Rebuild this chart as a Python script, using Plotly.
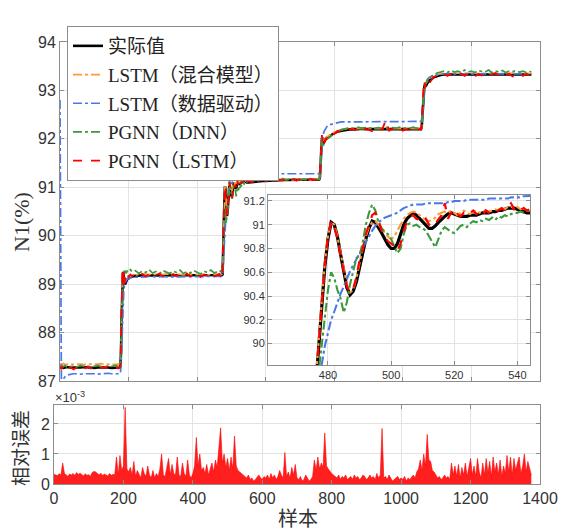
import plotly.graph_objects as go

# ---------------- data ----------------
# sample index grid (non-uniform: dense around the transients / inset window)
samples = ([0, 2, 4, 7, 10, 15, 20, 30, 40, 50, 60, 70, 80, 90, 100, 110, 120, 130, 140, 150, 160, 170]
           + [173, 176, 178, 180, 182, 184, 186, 188, 190, 193, 196, 200, 205, 210]
           + list(range(220, 461, 10))
           + [465, 468]
           + list(range(470, 546))
           + list(range(550, 751, 10))
           + [753, 756, 758, 760, 762, 764, 766, 768, 770, 775, 780, 790]
           + list(range(800, 1051, 10))
           + [1053, 1055, 1057, 1059, 1061, 1063, 1065, 1068, 1071, 1075, 1080, 1090]
           + list(range(1100, 1371, 10)) + [1375])

actual = ([87.28, 87.28, 87.29, 87.28, 87.27, 87.28, 87.29, 87.28, 87.28, 87.27, 87.28, 87.29, 87.28, 87.28, 87.27, 87.28, 87.28, 87.29, 87.28, 87.27, 87.28, 87.28]
          + [87.28, 87.3, 87.6, 88.4, 89.0, 89.25, 89.15, 89.05, 89.0, 89.05, 89.1, 89.12, 89.15, 89.16]
          + [89.17, 89.18, 89.18, 89.19, 89.18, 89.18, 89.19, 89.18, 89.18, 89.19, 89.18, 89.18, 89.19, 89.18, 89.18, 89.19, 89.18, 89.18, 89.19, 89.18, 89.18, 89.19, 89.18, 89.18, 89.19]
          + [89.18, 89.18]
          + [89.18, 89.18, 89.18, 89.19, 89.2, 89.35, 89.6, 89.95, 90.35, 90.65,
             90.88, 91.02, 91.0, 90.9, 90.75, 90.6, 90.47, 90.41, 90.44, 90.52,
             90.65, 90.76, 90.88, 90.97, 91.03, 91.02, 90.98, 90.93, 90.88, 90.83,
             90.8, 90.8, 90.84, 90.92, 91.0, 91.05, 91.08, 91.1, 91.08, 91.05,
             91.02, 90.99, 90.97, 90.97, 90.99, 91.02, 91.05, 91.07, 91.09, 91.1,
             91.09, 91.08, 91.07, 91.07, 91.07, 91.08, 91.08, 91.08, 91.09, 91.1,
             91.1, 91.1, 91.11, 91.11, 91.12, 91.12, 91.13, 91.14, 91.14, 91.14,
             91.13, 91.12, 91.11, 91.1, 91.1, 91.1]
          + [91.1, 91.11, 91.12, 91.12, 91.13, 91.13, 91.14, 91.14, 91.14, 91.15, 91.15, 91.15, 91.15, 91.16, 91.15, 91.15, 91.16, 91.15, 91.16, 91.15, 91.16]
          + [91.16, 91.16, 91.2, 91.5, 91.85, 92.02, 91.95, 91.9, 91.93, 92.0, 92.02, 92.08]
          + [92.12, 92.15, 92.17, 92.18, 92.19, 92.2, 92.2, 92.2, 92.21, 92.2, 92.2, 92.21, 92.2, 92.2, 92.21, 92.2, 92.2, 92.21, 92.2, 92.2, 92.21, 92.2, 92.2, 92.21, 92.2, 92.2]
          + [92.2, 92.25, 92.5, 92.85, 93.05, 93.12, 93.08, 93.1, 93.15, 93.18, 93.22, 93.27]
          + [93.3, 93.32, 93.33, 93.33, 93.34, 93.33, 93.34, 93.33, 93.34, 93.34, 93.33, 93.34, 93.34, 93.33, 93.34, 93.34, 93.33, 93.34, 93.34, 93.33, 93.34, 93.33, 93.34, 93.34, 93.33, 93.34, 93.33, 93.34, 93.33])

lstm_hybrid = ([87.34, 87.35, 87.34, 87.35, 87.36, 87.34, 87.35, 87.36, 87.34, 87.35, 87.35, 87.34, 87.36, 87.35, 87.34, 87.35, 87.36, 87.34, 87.35, 87.35, 87.34, 87.35]
               + [87.35, 87.36, 87.7, 88.5, 89.05, 89.22, 89.15, 89.08, 89.05, 89.08, 89.12, 89.15, 89.17, 89.18]
               + [89.19, 89.2, 89.21, 89.2, 89.2, 89.21, 89.2, 89.19, 89.2, 89.21, 89.2, 89.2, 89.21, 89.2, 89.19, 89.2, 89.21, 89.2, 89.2, 89.21, 89.2, 89.19, 89.2, 89.21, 89.2]
               + [89.2, 89.2]
               + [89.2, 89.2, 89.2, 89.22, 89.25, 89.4, 89.65, 90.0, 90.38, 90.68,
                  90.9, 91.02, 91.0, 90.9, 90.76, 90.62, 90.5, 90.43, 90.45, 90.55,
                  90.68, 90.8, 90.9, 90.98, 91.02, 91.03, 91.0, 90.97, 90.93, 90.9,
                  90.88, 90.9, 90.95, 91.0, 91.05, 91.08, 91.1, 91.11, 91.1, 91.08,
                  91.06, 91.04, 91.03, 91.04, 91.06, 91.09, 91.1, 91.11, 91.1, 91.12,
                  91.1, 91.08, 91.1, 91.12, 91.1, 91.09, 91.11, 91.12, 91.1, 91.11,
                  91.12, 91.11, 91.12, 91.13, 91.12, 91.14, 91.13, 91.15, 91.15, 91.14,
                  91.15, 91.13, 91.14, 91.12, 91.12, 91.12]
               + [91.13, 91.14, 91.15, 91.14, 91.16, 91.15, 91.16, 91.15, 91.17, 91.16, 91.15, 91.17, 91.16, 91.15, 91.17, 91.16, 91.17, 91.16, 91.15, 91.17, 91.16]
               + [91.17, 91.17, 91.22, 91.52, 91.88, 92.04, 91.98, 91.93, 91.96, 92.03, 92.05, 92.1]
               + [92.14, 92.17, 92.19, 92.2, 92.21, 92.21, 92.22, 92.21, 92.22, 92.21, 92.22, 92.21, 92.22, 92.22, 92.21, 92.22, 92.21, 92.22, 92.22, 92.21, 92.22, 92.21, 92.22, 92.21, 92.22, 92.22]
               + [92.21, 92.26, 92.5, 92.85, 93.05, 93.15, 93.12, 93.15, 93.2, 93.22, 93.26, 93.3]
               + [93.33, 93.34, 93.35, 93.35, 93.36, 93.35, 93.36, 93.35, 93.36, 93.36, 93.35, 93.36, 93.35, 93.36, 93.35, 93.36, 93.36, 93.35, 93.36, 93.35, 93.36, 93.35, 93.36, 93.35, 93.36, 93.35, 93.36, 93.35, 93.35])

lstm_data = ([92.8, 88.6, 87.05, 87.02, 87.05, 87.09, 87.12, 87.14, 87.15, 87.15, 87.14, 87.15, 87.15, 87.16, 87.15, 87.14, 87.15, 87.15, 87.16, 87.15, 87.15, 87.15]
             + [87.15, 87.15, 87.3, 87.8, 88.3, 88.65, 88.85, 88.97, 89.03, 89.08, 89.1, 89.12, 89.13, 89.14]
             + [89.14, 89.15, 89.15, 89.15, 89.16, 89.15, 89.15, 89.15, 89.16, 89.15, 89.15, 89.15, 89.16, 89.15, 89.15, 89.15, 89.16, 89.15, 89.15, 89.15, 89.16, 89.15, 89.15, 89.15, 89.16]
             + [89.15, 89.16]
             + [89.16, 89.16, 89.17, 89.18, 89.2, 89.25, 89.4, 89.62, 89.82, 89.98,
                90.1, 90.2, 90.27, 90.35, 90.42, 90.48, 90.55, 90.61, 90.66, 90.71,
                90.76, 90.81, 90.86, 90.91, 90.95, 90.99, 91.02, 91.04, 91.06, 91.07,
                91.08, 91.09, 91.1, 91.12, 91.14, 91.15, 91.16, 91.17, 91.17, 91.17,
                91.17, 91.18, 91.18, 91.18, 91.18, 91.18, 91.18, 91.18, 91.19, 91.19,
                91.2, 91.2, 91.2, 91.2, 91.21, 91.21, 91.21, 91.21, 91.21, 91.21,
                91.21, 91.22, 91.22, 91.22, 91.22, 91.22, 91.22, 91.22, 91.23, 91.23,
                91.23, 91.23, 91.24, 91.24, 91.24, 91.24]
             + [91.25, 91.25, 91.26, 91.26, 91.26, 91.27, 91.27, 91.27, 91.27, 91.28, 91.28, 91.28, 91.28, 91.28, 91.28, 91.28, 91.28, 91.28, 91.28, 91.28, 91.28]
             + [91.28, 91.28, 91.3, 91.4, 91.65, 91.85, 92.0, 92.1, 92.15, 92.22, 92.27, 92.3]
             + [92.32, 92.34, 92.35, 92.35, 92.35, 92.36, 92.35, 92.35, 92.36, 92.35, 92.35, 92.36, 92.35, 92.35, 92.36, 92.35, 92.35, 92.36, 92.35, 92.35, 92.36, 92.35, 92.35, 92.36, 92.35, 92.35]
             + [92.35, 92.36, 92.45, 92.7, 92.9, 93.05, 93.12, 93.18, 93.22, 93.26, 93.28, 93.3]
             + [93.32, 93.33, 93.34, 93.34, 93.35, 93.34, 93.35, 93.34, 93.35, 93.34, 93.35, 93.34, 93.35, 93.34, 93.35, 93.34, 93.35, 93.34, 93.35, 93.34, 93.35, 93.34, 93.35, 93.34, 93.35, 93.34, 93.35, 93.34, 93.34])

pgnn_dnn = ([87.3, 87.31, 87.29, 87.31, 87.3, 87.32, 87.29, 87.3, 87.31, 87.29, 87.32, 87.3, 87.31, 87.29, 87.3, 87.32, 87.3, 87.29, 87.31, 87.3, 87.32, 87.3]
            + [87.3, 87.32, 87.6, 88.3, 88.9, 89.2, 89.3, 89.25, 89.28, 89.22, 89.27, 89.25, 89.3, 89.26]
            + [89.28, 89.22, 89.27, 89.24, 89.3, 89.23, 89.26, 89.21, 89.28, 89.25, 89.22, 89.27, 89.24, 89.29, 89.22, 89.26, 89.23, 89.28, 89.25, 89.21, 89.27, 89.24, 89.29, 89.23, 89.26]
            + [89.25, 89.27]
            + [89.25, 89.27, 89.24, 89.26, 89.28, 89.35, 89.5, 89.75, 90.0, 90.2,
               90.45, 90.6, 90.55, 90.45, 90.38, 90.26, 90.35, 90.5, 90.62, 90.72,
               90.74, 90.85, 91.0, 91.1, 91.17, 91.12, 91.02, 90.97, 90.94, 90.92,
               90.88, 90.82, 90.76, 90.8, 90.92, 91.0, 91.01, 90.99, 91.0, 90.98,
               90.97, 90.95, 90.9, 90.85, 90.81, 90.88, 90.95, 90.98, 90.96, 90.94,
               90.93, 90.96, 90.99, 91.0, 90.98, 91.01, 91.03, 91.02, 91.04, 91.03,
               91.05, 91.04, 91.06, 91.04, 91.07, 91.06, 91.08, 91.07, 91.09, 91.1,
               91.1, 91.11, 91.1, 91.12, 91.11, 91.11]
            + [91.12, 91.14, 91.13, 91.15, 91.14, 91.16, 91.15, 91.17, 91.15, 91.16, 91.18, 91.15, 91.17, 91.16, 91.18, 91.15, 91.17, 91.16, 91.18, 91.16, 91.17]
            + [91.16, 91.17, 91.2, 91.45, 91.8, 91.98, 91.92, 91.86, 91.9, 91.97, 92.0, 92.06]
            + [92.12, 92.16, 92.19, 92.21, 92.22, 92.23, 92.21, 92.24, 92.22, 92.23, 92.21, 92.24, 92.22, 92.23, 92.21, 92.24, 92.22, 92.23, 92.22, 92.24, 92.21, 92.23, 92.22, 92.24, 92.22, 92.23]
            + [92.22, 92.25, 92.45, 92.8, 93.0, 93.1, 93.12, 93.18, 93.2, 93.25, 93.28, 93.33]
            + [93.36, 93.38, 93.4, 93.37, 93.41, 93.38, 93.4, 93.37, 93.42, 93.38, 93.4, 93.37, 93.41, 93.39, 93.38, 93.42, 93.37, 93.4, 93.38, 93.41, 93.37, 93.4, 93.39, 93.41, 93.38, 93.4, 93.37, 93.39, 93.38])

pgnn_lstm = ([87.26, 87.3, 87.24, 87.29, 87.25, 87.31, 87.26, 87.28, 87.24, 87.3, 87.27, 87.25, 87.29, 87.26, 87.3, 87.24, 87.28, 87.27, 87.3, 87.25, 87.29, 87.26]
             + [87.27, 87.3, 87.9, 88.8, 89.3, 88.95, 89.25, 89.0, 89.15, 89.1, 89.2, 89.15, 89.2, 89.17]
             + [89.2, 89.15, 89.21, 89.16, 89.2, 89.14, 89.19, 89.22, 89.16, 89.2, 89.15, 89.21, 89.17, 89.2, 89.14, 89.22, 89.16, 89.19, 89.23, 89.15, 89.2, 89.17, 89.22, 89.16, 89.19]
             + [89.21, 89.16]
             + [89.15, 89.22, 89.18, 89.2, 89.24, 89.4, 89.62, 89.98, 90.36, 90.66,
                90.9, 91.03, 90.98, 90.88, 90.74, 90.6, 90.48, 90.43, 90.46, 90.56,
                90.7, 90.8, 90.92, 91.0, 91.08, 91.1, 91.04, 90.95, 90.9, 90.86,
                90.84, 90.82, 90.78, 90.84, 90.95, 91.02, 91.07, 91.08, 91.05, 91.04,
                91.02, 91.05, 91.0, 91.03, 91.01, 91.05, 91.08, 91.18, 91.05, 91.1,
                91.06, 91.09, 91.07, 91.1, 91.08, 91.1, 91.12, 91.09, 91.11, 91.08,
                91.12, 91.1, 91.13, 91.11, 91.12, 91.14, 91.12, 91.15, 91.18, 91.13,
                91.15, 91.12, 91.14, 91.12, 91.13, 91.12]
             + [91.13, 91.1, 91.16, 91.12, 91.17, 91.13, 91.15, 91.18, 91.12, 91.16, 91.14, 91.18, 91.13, 91.17, 91.14, 91.16, 91.19, 91.13, 91.17, 91.15, 91.16]
             + [91.15, 91.16, 91.25, 91.6, 92.0, 92.08, 91.9, 91.98, 91.9, 92.02, 91.98, 92.1]
             + [92.1, 92.16, 92.15, 92.19, 92.17, 92.21, 92.18, 92.22, 92.17, 92.21, 92.19, 92.16, 92.22, 92.18, 92.2, 92.38, 92.17, 92.21, 92.18, 92.22, 92.17, 92.2, 92.19, 92.22, 92.18, 92.21]
             + [92.2, 92.3, 92.6, 92.95, 93.1, 93.2, 93.05, 93.15, 93.12, 93.2, 93.18, 93.28]
             + [93.3, 93.31, 93.35, 93.3, 93.34, 93.36, 93.31, 93.35, 93.3, 93.34, 93.36, 93.29, 93.34, 93.31, 93.35, 93.3, 93.33, 93.36, 93.3, 93.34, 93.31, 93.35, 93.29, 93.33, 93.36, 93.3, 93.34, 93.31, 93.33])

# relative error of PGNN(LSTM), units of 1e-3, every 5 samples (0..1375)
err_samples = list(range(0, 1376, 5))
rel_error_e3 = ([0.32, 0.30, 0.28, 0.34, 0.30, 0.70, 0.36, 0.30, 0.26, 0.33]
                + [0.30, 0.35, 0.28, 0.38, 0.32, 0.36, 0.30, 0.27, 0.34, 0.29]
                + [0.31, 0.26, 0.38, 0.42, 0.40, 0.35, 0.30, 0.36, 0.28, 0.33]
                + [0.30, 0.27, 0.35, 0.29, 0.32, 0.31, 0.90, 0.30, 0.95, 0.45]
                + [0.60, 2.55, 0.50, 0.40, 0.55, 0.30, 0.75, 0.25, 0.45, 0.30]
                + [0.20, 0.55, 0.35, 0.25, 0.60, 0.30, 0.20, 0.45, 0.20, 0.35]
                + [0.25, 0.50, 1.00, 0.30, 0.25, 0.55, 0.85, 0.30, 0.65, 0.35]
                + [0.30, 0.90, 0.30, 0.25, 0.70, 0.35, 0.25, 0.80, 0.30, 0.20]
                + [0.35, 0.60, 1.55, 0.60, 1.00, 0.45, 0.55, 0.35, 0.65, 0.30]
                + [0.50, 0.70, 0.40, 0.80, 0.55, 1.20, 1.87, 0.70, 1.00, 0.55]
                + [0.85, 0.45, 0.90, 0.50, 1.60, 0.60, 0.45, 0.40, 0.35, 0.30]
                + [0.25, 0.20, 0.30, 0.15, 0.20, 0.10, 0.15, 0.25, 0.30, 0.20]
                + [0.15, 0.25, 0.20, 0.30, 0.15, 0.35, 0.20, 0.30, 0.15, 0.25]
                + [0.45, 0.30, 0.20, 1.05, 0.25, 0.40, 0.20, 0.55, 0.30, 0.65]
                + [0.20, 0.15, 0.25, 0.10, 0.15, 0.30, 0.20, 0.10, 0.15, 0.25]
                + [0.80, 0.45, 0.90, 0.50, 0.70, 0.55, 1.70, 0.60, 0.50, 0.40]
                + [0.35, 0.30, 0.25, 0.20, 0.30, 0.15, 0.25, 0.20, 0.30, 0.15]
                + [0.20, 0.25, 0.15, 0.30, 0.20, 0.25, 0.15, 0.20, 0.30, 0.25]
                + [0.15, 0.20, 0.30, 0.20, 0.25, 0.15, 0.35, 0.20, 0.30, 1.85]
                + [0.20, 0.25, 0.15, 0.30, 0.20, 0.10, 0.15, 0.20, 0.25, 0.15]
                + [0.20, 0.15, 0.25, 0.10, 0.20, 0.15, 0.25, 0.30, 0.20, 0.40]
                + [0.50, 0.80, 0.45, 1.00, 0.60, 1.65, 0.80, 0.75, 0.45, 0.40]
                + [0.30, 0.20, 0.25, 0.15, 0.20, 0.30, 0.20, 0.25, 0.15, 0.70]
                + [0.30, 0.60, 0.25, 0.65, 0.20, 0.55, 0.30, 0.70, 0.25, 0.50]
                + [0.85, 0.30, 0.60, 0.25, 0.85, 0.40, 0.20, 0.70, 0.30, 0.85]
                + [0.35, 0.75, 0.25, 0.90, 0.40, 0.70, 0.30, 0.80, 0.25, 0.60]
                + [0.35, 0.95, 0.40, 0.90, 0.30, 0.85, 0.45, 0.70, 0.90, 0.35]
                + [0.60, 1.00, 0.40, 0.75, 0.55, 0.30])

series_names = ["实际值", "LSTM（混合模型）", "LSTM（数据驱动）", "PGNN（DNN）", "PGNN（LSTM）"]
main_yticks = [87, 88, 89, 90, 91, 92, 93, 94]
inset_yticks = [90, 90.2, 90.4, 90.6, 90.8, 91, 91.2]
inset_xticks = [480, 500, 520, 540]
err_yticks = [0, 1, 2]
x_ticks = [0, 200, 400, 600, 800, 1000, 1200, 1400]

for nm, s in [("actual", actual), ("hyb", lstm_hybrid), ("data", lstm_data), ("dnn", pgnn_dnn), ("lstm", pgnn_lstm)]:
    if len(s) != len(samples):
        raise ValueError(f"{nm}: {len(s)} vs {len(samples)}")
if len(rel_error_e3) != len(err_samples):
    raise ValueError(f"err: {len(rel_error_e3)} vs {len(err_samples)}")

# ---------------- styling ----------------
W, H = 561, 531
SERIF = "Liberation Serif, Noto Sans CJK SC, serif"
SANS = "Liberation Sans, Arial, sans-serif"
styles = [
    dict(color="#000000", width=2.6, dash="solid"),
    dict(color="#FF9A30", width=1.7, dash="dashdot"),
    dict(color="#4A78E8", width=1.7, dash="dashdot"),
    dict(color="#3C9A3C", width=1.7, dash="dashdot"),
    dict(color="#FF0000", width=1.8, dash="dash"),
]
data_list = [actual, lstm_hybrid, lstm_data, pgnn_dnn, pgnn_lstm]


def px_x(p):
    return p / W


def px_y(p):
    return (H - p) / H


fig = go.Figure()
for i, (name, ys, st) in enumerate(zip(series_names, data_list, styles)):
    fig.add_trace(go.Scatter(x=samples, y=ys, mode="lines", name=name, legendgroup=f"g{i}",
                             line=dict(color=st["color"], width=st["width"], dash=st["dash"]),
                             xaxis="x", yaxis="y"))
for i, (name, ys, st) in enumerate(zip(series_names, data_list, styles)):
    w = st["width"] + (0.6 if st["dash"] == "solid" else 0.4)
    fig.add_trace(go.Scatter(x=samples, y=ys, mode="lines", name=name, showlegend=False,
                             legendgroup=f"g{i}",
                             line=dict(color=st["color"], width=w, dash=st["dash"]),
                             xaxis="x3", yaxis="y3"))
fig.add_trace(go.Scatter(x=err_samples, y=rel_error_e3, mode="lines", fill="tozeroy",
                         line=dict(color="#FF0000", width=0.6), fillcolor="rgba(255,0,0,0.88)",
                         showlegend=False, xaxis="x2", yaxis="y2"))

frame = "#8c8c8c"
grid = "#e3e3e3"
tickfont = dict(family=SANS, size=16, color="#333333")
small_tick = dict(family=SANS, size=11, color="#333333")
common = dict(showline=True, linecolor=frame, linewidth=1, mirror="ticks", ticks="inside",
              ticklen=4, tickcolor=frame, showgrid=True, gridcolor=grid, gridwidth=1,
              zeroline=False, automargin=False)

fig.update_layout(
    template="none",
    width=W, height=H, margin=dict(l=0, r=0, t=0, b=0, autoexpand=False),
    paper_bgcolor="white", plot_bgcolor="white",
    xaxis=dict(domain=[px_x(60), px_x(540)], range=[0, 1400], tickvals=x_ticks,
               showticklabels=False, anchor="y", **common),
    yaxis=dict(domain=[px_y(381), px_y(42)], range=[87, 94], tickvals=main_yticks,
               tickfont=tickfont, anchor="x", **common),
    xaxis2=dict(domain=[px_x(54), px_x(540)], range=[0, 1400], tickvals=x_ticks,
                tickfont=tickfont, anchor="y2", **common),
    yaxis2=dict(domain=[px_y(484), px_y(405)], range=[0, 2.63], tickvals=err_yticks,
                tickfont=tickfont, anchor="x2", **common),
    xaxis3=dict(domain=[px_x(268), px_x(530)], range=[461, 544], tickvals=inset_xticks,
                tickfont=small_tick, anchor="y3", **common),
    yaxis3=dict(domain=[px_y(365), px_y(195)], range=[89.82, 91.25], tickvals=inset_yticks,
                ticktext=[("%g" % v) for v in inset_yticks],
                tickfont=small_tick, anchor="x3", **common),
    legend=dict(x=px_x(67), y=px_y(26), xanchor="left", yanchor="top",
                bgcolor="white", bordercolor="#8c8c8c", borderwidth=1,
                font=dict(family=SERIF, size=19, color="#222222"),
                tracegroupgap=1, itemwidth=30),
    showlegend=True,
)

fig.add_annotation(text="N1(%)", x=px_x(21), y=px_y(222), xref="paper", yref="paper",
                   xanchor="center", yanchor="middle", textangle=-90, showarrow=False,
                   font=dict(family=SERIF, size=22, color="#333333"))
fig.add_annotation(text="相对误差", x=px_x(21), y=px_y(448), xref="paper", yref="paper",
                   xanchor="center", yanchor="middle", textangle=-90, showarrow=False,
                   font=dict(family=SERIF, size=19, color="#333333"))
fig.add_annotation(text="样本", x=px_x(298), y=px_y(519), xref="paper", yref="paper",
                   xanchor="center", yanchor="middle", showarrow=False,
                   font=dict(family=SERIF, size=20, color="#333333"))
fig.add_annotation(text="×10<sup>-3</sup>", x=px_x(53), y=px_y(397), xref="paper", yref="paper",
                   xanchor="left", yanchor="middle", showarrow=False,
                   font=dict(family=SANS, size=13, color="#333333"))

fig.write_html("out.html")
